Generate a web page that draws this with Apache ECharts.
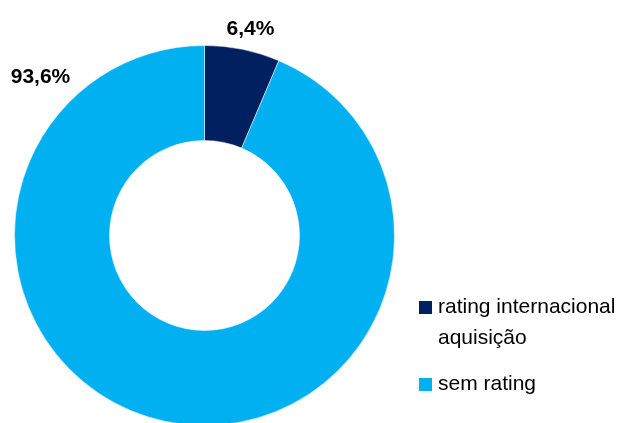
<!DOCTYPE html>
<html>
<head>
<meta charset="utf-8">
<script src="https://cdn.jsdelivr.net/npm/echarts@6/dist/echarts.min.js"></script>
<style>html,body{margin:0;padding:0;background:#fff;}#c{width:622px;height:423px;}</style>
</head>
<body>
<div id="c"></div>
<script>
var categories = ['rating internacional\naquisição', 'sem rating'];
var values = [6.4, 93.6];
var labels = ['6,4%', '93,6%'];
var colors = ['#002060', '#00B0F0'];

var chart = echarts.init(document.getElementById('c'));
var labelPos = [[250.5, 29], [40.5, 77]];
var legendFont = {fontFamily: '"Liberation Sans", Arial, sans-serif', fontSize: 21, lineHeight: 31, color: '#000'};
chart.setOption({
  animation: false,
  legend: [{
    orient: 'vertical',
    left: 412,
    top: 256,
    padding: 5,
    icon: 'rect',
    itemWidth: 15,
    itemHeight: 15,
    data: [categories[0]],
    formatter: function (name) { return ' \n' + name; },
    textStyle: legendFont
  }, {
    orient: 'vertical',
    left: 412,
    top: 364,
    padding: 5,
    icon: 'rect',
    itemWidth: 15,
    itemHeight: 15,
    data: [categories[1]],
    textStyle: legendFont
  }],
  series: [{
    type: 'pie',
    center: [204.5, 235.5],
    radius: [95, 190],
    startAngle: 90,
    clockwise: true,
    avoidLabelOverlap: false,
    itemStyle: {borderColor: '#fff', borderWidth: 0.5},
    label: {
      show: true,
      position: 'outside',
      formatter: function (p) { return labels[p.dataIndex]; },
      fontFamily: 'Liberation Sans, Arial, sans-serif',
      fontWeight: 'bold',
      fontSize: 21,
      color: '#000'
    },
    labelLine: {show: false},
    labelLayout: function (p) {
      return {x: labelPos[p.dataIndex][0], y: labelPos[p.dataIndex][1], align: 'center', verticalAlign: 'middle'};
    },
    emphasis: {disabled: true},
    data: categories.map(function (c, i) {
      return {name: c, value: values[i], itemStyle: {color: colors[i]}};
    })
  }]
});
</script>
</body>
</html>
